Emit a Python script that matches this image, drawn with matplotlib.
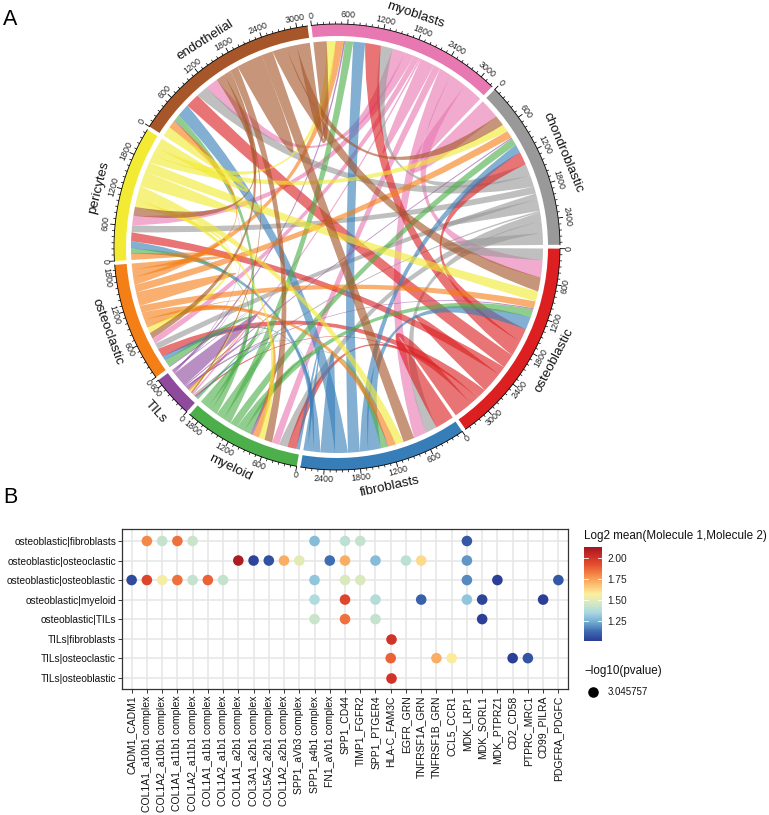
import numpy as np
import matplotlib
matplotlib.use("Agg")
import matplotlib.pyplot as plt
from matplotlib.path import Path
from matplotlib.patches import PathPatch, Wedge
from matplotlib.collections import LineCollection
from matplotlib.colors import LinearSegmentedColormap

plt.rcParams['font.family'] = ['Liberation Sans', 'DejaVu Sans']

W, H = 769, 815

# chord diagram, sectors clockwise starting from myoblasts
sectors = ["myoblasts", "chondroblastic", "osteoblastic", "fibroblasts", "myeloid",
           "TILs", "osteoclastic", "pericytes", "endothelial"]
sector_colors = ["#E878B2", "#999999", "#DC1F20", "#377EB8", "#4DAF4A",
                 "#8F4A9E", "#F47F17", "#F2EA33", "#A65628"]

from_myoblasts = [128, 360, 307, 228, 127, 30, 106, 170, 233]
from_chondro = [212, 105, 212, 212, 159, 30, 106, 127, 212]
from_osteoblastic = [286, 238, 188, 339, 159, 30, 159, 159, 254]
from_fibroblasts = [212, 148, 233, 130, 64, 30, 85, 127, 233]
from_myeloid = [143, 133, 148, 122, 75, 30, 127, 85, 117]
from_tils = [30, 20, 20, 15, 50, 140, 15, 15, 15]
from_osteoclastic = [143, 133, 127, 138, 117, 30, 124, 106, 138]
from_pericytes = [159, 138, 180, 143, 106, 30, 106, 135, 180]
from_endothelial = [238, 191, 254, 201, 143, 30, 106, 159, 238]

# dot plot
pairs = ["osteoblastic|fibroblasts", "osteoblastic|osteoclastic", "osteoblastic|osteoblastic",
         "osteoblastic|myeloid", "osteoblastic|TILs", "TILs|fibroblasts",
         "TILs|osteoclastic", "TILs|osteoblastic"]
genes = ["CADM1_CADM1", "COL1A1_a10b1 complex", "COL1A2_a10b1 complex", "COL1A1_a11b1 complex",
         "COL1A2_a11b1 complex", "COL1A1_a1b1 complex", "COL1A2_a1b1 complex", "COL1A1_a2b1 complex",
         "COL3A1_a2b1 complex", "COL5A2_a2b1 complex", "COL1A2_a2b1 complex", "SPP1_aVb3 complex",
         "SPP1_a4b1 complex", "FN1_aVb1 complex", "SPP1_CD44", "TIMP1_FGFR2", "SPP1_PTGER4",
         "HLA-C_FAM3C", "EGFR_GRN", "TNFRSF1A_GRN", "TNFRSF1B_GRN", "CCL5_CCR1", "MDK_LRP1",
         "MDK_SORL1", "MDK_PTPRZ1", "CD2_CD58", "PTPRC_MRC1", "CD99_PILRA", "PDGFRA_PDGFC"]

row1_genes = [1, 2, 3, 4, 12, 14, 15, 22]
row1_vals = [1.80, 1.42, 1.85, 1.43, 1.28, 1.40, 1.42, 1.08]
row2_genes = [7, 8, 9, 10, 11, 13, 14, 16, 18, 19, 22]
row2_vals = [2.10, 1.03, 1.06, 1.72, 1.50, 1.13, 1.72, 1.28, 1.40, 1.62, 1.20]
row3_genes = [0, 1, 2, 3, 4, 5, 6, 12, 14, 15, 22, 24, 28]
row3_vals = [1.05, 1.95, 1.55, 1.85, 1.42, 1.88, 1.42, 1.30, 1.47, 1.47, 1.18, 1.02, 1.08]
row4_genes = [12, 14, 16, 19, 22, 23, 27]
row4_vals = [1.37, 1.95, 1.38, 1.10, 1.30, 1.03, 1.00]
row5_genes = [12, 14, 16, 23]
row5_vals = [1.43, 1.85, 1.42, 1.02]
row6_genes = [17]
row6_vals = [2.00]
row7_genes = [17, 20, 21, 25, 26]
row7_vals = [1.88, 1.72, 1.58, 1.02, 1.07]
row8_genes = [17]
row8_vals = [2.00]


def px_box(x0, y0, x1, y1):
    return [x0 / W, 1 - y1 / H, (x1 - x0) / W, (y1 - y0) / H]


fig = plt.figure(figsize=(W / 100, H / 100), dpi=100)
fig.text(3 / W, 1 - 25 / H, "A", fontsize=15.5, va="baseline")
fig.text(3 / W, 1 - 503 / H, "B", fontsize=15.5, va="baseline")

# ---- A: chord diagram ----
cx, cy, R = 337.0, 247.0, 206.0
ax = fig.add_axes(px_box(0, 0, W, 505))
ax.set_xlim(-cx / R, (W - cx) / R)
ax.set_ylim((cy - 505) / R, cy / R)
ax.axis("off")

mat = np.array([from_myoblasts, from_chondro, from_osteoblastic, from_fibroblasts, from_myeloid,
                from_tils, from_osteoclastic, from_pericytes, from_endothelial], dtype=float)
n = len(sectors)
size = mat.sum(axis=0) + mat.sum(axis=1)
gap = 1.0
scale = (360 - gap * n) / size.sum()

start = np.zeros(n)
a = 96.6
for i in range(n):
    start[i] = a
    a = a - size[i] * scale - gap


def pos(i, u):
    return np.radians(start[i] - u * scale)


def xy(theta, r=1.0):
    return r * np.cos(theta), r * np.sin(theta)


# lay the link ends out along every sector: incoming first, own fan after
in_slot = {}
out_slot = {}
self_slot = {}
for i in range(n):
    u = 0.0
    for k in range(1, n):
        s = (i - k) % n
        in_slot[(s, i)] = (u, u + mat[s, i])
        u += mat[s, i]
    for k in range(1, n):
        t = (i - k) % n
        out_slot[(i, t)] = (u, u + mat[i, t])
        u += mat[i, t]
        if k == 4:
            self_slot[i] = (u, u + mat[i, i], u + mat[i, i], u + 2 * mat[i, i])
            u += 2 * mat[i, i]


def control(t0, t1):
    # control point on the bisector, pulled towards the centre
    d = abs((t0 - t1 + np.pi) % (2 * np.pi) - np.pi)
    m = np.cos(d / 2)
    c = m * 0.4 * d / np.pi
    mx, my = np.cos(t0) + np.cos(t1), np.sin(t0) + np.sin(t1)
    norm = np.hypot(mx, my)
    if norm < 1e-6:
        return 0.0, 0.0
    return c * mx / norm, c * my / norm


def ribbon(i, u0, u1, j, v0, v1, color):
    t1 = np.linspace(pos(i, u0), pos(i, u1), 12)
    t2 = np.linspace(pos(j, v0), pos(j, v1), 12)
    verts = [xy(t) for t in t1]
    codes = [Path.MOVETO] + [Path.LINETO] * 11
    verts += [control(t1[-1], t2[0]), xy(t2[0])]
    codes += [Path.CURVE3, Path.CURVE3]
    verts += [xy(t) for t in t2[1:]]
    codes += [Path.LINETO] * 11
    verts += [control(t2[-1], t1[0]), xy(t1[0])]
    codes += [Path.CURVE3, Path.CURVE3]
    ax.add_patch(PathPatch(Path(verts, codes), facecolor=color, edgecolor="none", alpha=0.62, lw=0))


for i in range(n):
    for j in range(n):
        if i == j:
            u = self_slot[i]
            ribbon(i, u[0], u[1], i, u[2], u[3], sector_colors[i])
        else:
            u0, u1 = out_slot[(i, j)]
            v0, v1 = in_slot[(i, j)]
            ribbon(i, u0, u1, j, v0, v1, sector_colors[i])

# ring, axis line, ticks, labels
r_in, r_out = 211 / R, 223 / R
seg_major, seg_minor = [], []
for i in range(n):
    t0 = start[i]
    t1 = start[i] - size[i] * scale
    ax.add_patch(Wedge((0, 0), r_out, t1, t0, width=r_out - r_in, facecolor=sector_colors[i], edgecolor="none"))
    th = np.radians(np.linspace(t0, t1, 80))
    ax.plot(r_out * np.cos(th), r_out * np.sin(th), color="black", lw=0.6)
    for u in np.arange(0, size[i] + 1, 100):
        t = pos(i, u)
        if u % 600 == 0:
            seg_major.append([xy(t, r_out), xy(t, r_out + 5 / R)])
            d = np.degrees(t) % 360
            rot = d - 90 if d < 180 else d + 90
            x, y = xy(t, 232 / R)
            ax.text(x, y, str(int(u)), fontsize=6.4, color="#222222", rotation=rot, rotation_mode="anchor",
                    ha="center", va="center")
        else:
            seg_minor.append([xy(t, r_out), xy(t, r_out + 2.5 / R)])
    mid = np.radians((t0 + t1) / 2)
    d = np.degrees(mid) % 360
    rot = d - 90 if d < 180 else d + 90
    x, y = xy(mid, 245 / R)
    ax.text(x, y, sectors[i], fontsize=9.6, color="#111111", rotation=rot, rotation_mode="anchor",
            ha="center", va="center")
ax.add_collection(LineCollection(seg_major, colors="black", linewidths=0.6))
ax.add_collection(LineCollection(seg_minor, colors="black", linewidths=0.5))

# ---- B: dot plot ----
cmap = LinearSegmentedColormap.from_list("rdylbu", ["#2B3F97", "#3D6CB0", "#74ADD1", "#A8D8E4", "#D6E9C0",
                                                    "#FCEE9E", "#FDBE6F", "#F58B4A", "#E6552F",
                                                    "#CF2E27", "#A31621"])
vmin, vmax = 1.016, 2.13
ax2 = fig.add_axes(px_box(122.5, 529.3, 567.5, 689.4))
row_genes = [row1_genes, row2_genes, row3_genes, row4_genes, row5_genes, row6_genes, row7_genes, row8_genes]
row_vals = [row1_vals, row2_vals, row3_vals, row4_vals, row5_vals, row6_vals, row7_vals, row8_vals]
sc = None
for r in range(len(pairs)):
    sc = ax2.scatter(row_genes[r], [r] * len(row_genes[r]), c=row_vals[r], cmap=cmap, vmin=vmin, vmax=vmax,
                     s=58, linewidths=0, zorder=3)
ax2.set_xlim(-0.6, len(genes) - 0.4)
ax2.set_ylim(len(pairs) - 0.4, -0.6)
ax2.set_xticks(range(len(genes)))
ax2.set_xticklabels(genes, rotation=90, fontsize=7.5, color="#111111")
ax2.set_yticks(range(len(pairs)))
ax2.set_yticklabels(pairs, fontsize=7.3, color="#111111")
ax2.grid(True, color="#E6E6E6", lw=1.1)
ax2.set_axisbelow(True)
ax2.tick_params(length=3, width=0.7, color="#333333", pad=1.5)
for sp in ax2.spines.values():
    sp.set_color("#333333")
    sp.set_linewidth(0.9)

cax = fig.add_axes(px_box(584, 547, 602, 640.7))
cb = fig.colorbar(sc, cax=cax)
cb.outline.set_visible(False)
cb.set_ticks([1.25, 1.5, 1.75, 2.0])
cb.set_ticklabels(["1.25", "1.50", "1.75", "2.00"], fontsize=7.3)
cax.tick_params(length=0, pad=4, labelcolor="#222222")
for v in [1.25, 1.5, 1.75, 2.0]:
    cax.plot([0, 0.2], [v, v], color="white", lw=0.6, transform=cax.get_yaxis_transform())
    cax.plot([0.8, 1], [v, v], color="white", lw=0.6, transform=cax.get_yaxis_transform())

fig.text(584 / W, 1 - 536 / H, "Log2 mean(Molecule 1,Molecule 2)", fontsize=8.4, va="center", color="#111111")
fig.text(584 / W, 1 - 671 / H, "\u2212log10(pvalue)", fontsize=8.4, va="center", color="#111111")
fig.text(608 / W, 1 - 692 / H, "3.045757", fontsize=7, va="center", color="#111111")
lax = fig.add_axes(px_box(584, 683, 602, 701))
lax.scatter([0.5], [0.5], s=58, color="black", linewidths=0)
lax.set_xlim(0, 1)
lax.set_ylim(0, 1)
lax.axis("off")

fig.savefig("out.png", dpi=100)
